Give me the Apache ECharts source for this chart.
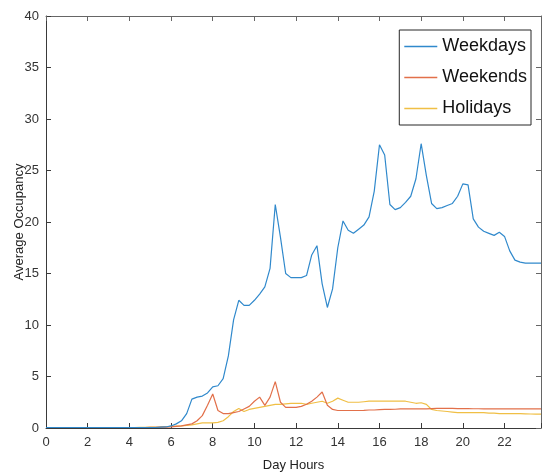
<!DOCTYPE html>
<html>
<head>
<meta charset="utf-8">
<script src="https://cdn.jsdelivr.net/npm/echarts@6/dist/echarts.min.js"></script>
<style>html,body{margin:0;padding:0;background:#fff}#c{width:542px;height:473px}</style>
</head>
<body>
<div id="c"></div>
<script>
// sample step: 15 minutes, 96 samples per day
const stepHours = 0.25;
const xTickLabels = [0, 2, 4, 6, 8, 10, 12, 14, 16, 18, 20, 22];
const seriesNames = ['Weekdays', 'Weekends', 'Holidays'];

const weekdays = [
  0.05,0.05,0.05,0.05,0.05,0.05,0.05,0.05,0.05,0.05,0.05,0.05,
  0.05,0.05,0.05,0.05,0.05,0.05,0.05,0.05,0.05,0.05,0.08,0.1,
  0.2,0.4,0.7,1.4,2.8,3.0,3.1,3.4,4.0,4.1,4.8,7.0,
  10.5,12.4,11.9,11.9,12.4,13.0,13.7,15.5,21.7,18.5,15.0,14.6,
  14.6,14.6,14.8,16.8,17.7,14.0,11.7,13.5,17.5,20.1,19.2,18.9,
  19.3,19.7,20.5,23.0,27.5,26.5,21.7,21.2,21.4,21.9,22.5,24.2,
  27.6,24.5,21.8,21.3,21.4,21.6,21.8,22.5,23.7,23.6,20.3,19.5,
  19.1,18.9,18.7,19.0,18.6,17.2,16.3,16.1,16.0,16.0,16.0,16.0
];
const weekends = [
  0.05,0.05,0.05,0.05,0.05,0.05,0.05,0.05,0.05,0.05,0.05,0.05,
  0.05,0.05,0.05,0.05,0.05,0.05,0.05,0.05,0.06,0.07,0.08,0.09,
  0.1,0.15,0.2,0.3,0.4,0.7,1.2,2.2,3.3,1.7,1.4,1.4,
  1.5,1.6,1.85,2.1,2.6,3.0,2.2,3.0,4.5,2.5,2.0,2.0,
  2.0,2.1,2.3,2.6,3.0,3.5,2.2,1.8,1.7,1.7,1.7,1.7,
  1.7,1.72,1.75,1.75,1.78,1.8,1.8,1.82,1.85,1.85,1.85,1.85,
  1.85,1.85,1.88,1.9,1.9,1.9,1.9,1.88,1.88,1.88,1.87,1.87,
  1.86,1.85,1.85,1.85,1.85,1.85,1.85,1.85,1.85,1.85,1.85,1.85
];
const holidays = [
  0.05,0.05,0.05,0.05,0.05,0.05,0.05,0.05,0.05,0.05,0.05,0.05,
  0.05,0.05,0.05,0.05,0.05,0.05,0.06,0.07,0.08,0.09,0.1,0.12,
  0.15,0.18,0.2,0.25,0.3,0.4,0.5,0.5,0.5,0.55,0.7,1.1,
  1.6,1.9,1.6,1.8,1.9,2.0,2.1,2.2,2.3,2.3,2.35,2.4,
  2.4,2.4,2.3,2.4,2.5,2.6,2.4,2.6,2.9,2.7,2.5,2.5,
  2.5,2.55,2.6,2.6,2.6,2.6,2.6,2.6,2.6,2.6,2.5,2.4,
  2.45,2.3,1.8,1.7,1.65,1.6,1.55,1.5,1.5,1.5,1.5,1.5,
  1.5,1.45,1.45,1.4,1.4,1.4,1.4,1.4,1.38,1.36,1.35,1.35
];

const colors = ['#3089cc', '#e2704a', '#f0bf45'];
const FONT = '"Liberation Sans Narrow", "Liberation Sans", Arial, sans-serif';

function pairs(arr) { return arr.map((v, i) => [i * stepHours, v]); }
const allData = [weekdays, weekends, holidays];
const xMax = (weekdays.length - 1) * stepHours;

const chart = echarts.init(document.getElementById('c'), null, {renderer: 'canvas'});
const axisColor = '#3a3a3a';
const sideColor = '#666';
chart.setOption({
  animation: false,
  backgroundColor: '#fff',
  color: colors,
  grid: {left: 46, right: 1, top: 16, bottom: 45, containLabel: false, outerBoundsMode: 'none'},
  legend: {
    orient: 'vertical', right: 11, top: 30,
    icon: 'rect', itemWidth: 33, itemHeight: 1.5, itemGap: 10,
    padding: [6, 4, 6, 5],
    backgroundColor: '#fff', borderColor: '#262626', borderWidth: 1,
    textStyle: {fontFamily: FONT, fontSize: 18, color: '#111', lineHeight: 21},
    data: seriesNames
  },
  xAxis: [{
    type: 'value', min: 0, max: xMax, interval: 2,
    name: 'Day Hours', nameLocation: 'middle', nameGap: 31, nameMoveOverlap: false,
    nameTextStyle: {fontFamily: FONT, fontSize: 13, color: '#222'},
    axisLine: {show: true, onZero: false, lineStyle: {color: axisColor}},
    axisTick: {show: true, inside: true, length: 5, lineStyle: {color: axisColor}},
    axisLabel: {fontFamily: FONT, fontSize: 13, color: '#333', margin: 8,
      formatter: v => xTickLabels.indexOf(v) >= 0 ? String(v) : ''},
    splitLine: {show: false}
  }, {
    type: 'value', position: 'top', min: 0, max: xMax, interval: 2,
    axisLine: {show: true, onZero: false, lineStyle: {color: sideColor}},
    axisTick: {show: true, inside: true, length: 5, lineStyle: {color: sideColor}},
    axisLabel: {show: false}, splitLine: {show: false}
  }],
  yAxis: [{
    type: 'value', min: 0, max: 40, interval: 5,
    name: 'Average Occupancy', nameLocation: 'middle', nameGap: 20, nameMoveOverlap: false,
    nameTextStyle: {fontFamily: FONT, fontSize: 13, color: '#222'},
    axisLine: {show: true, onZero: false, lineStyle: {color: axisColor}},
    axisTick: {show: true, inside: true, length: 5, lineStyle: {color: axisColor}},
    axisLabel: {fontFamily: FONT, fontSize: 13, color: '#333', margin: 7},
    splitLine: {show: false}
  }, {
    type: 'value', position: 'right', min: 0, max: 40, interval: 5,
    axisLine: {show: true, onZero: false, lineStyle: {color: sideColor}},
    axisTick: {show: true, inside: true, length: 5, lineStyle: {color: sideColor}},
    axisLabel: {show: false}, splitLine: {show: false}
  }],
  series: seriesNames.map((n, k) => ({
    name: n, type: 'line', data: pairs(allData[k]),
    showSymbol: false, symbol: 'none', smooth: false,
    lineStyle: {width: 1.2, color: colors[k]}, itemStyle: {color: colors[k]},
    xAxisIndex: 0, yAxisIndex: 0, z: 3 - k
  }))
});
</script>
</body>
</html>
